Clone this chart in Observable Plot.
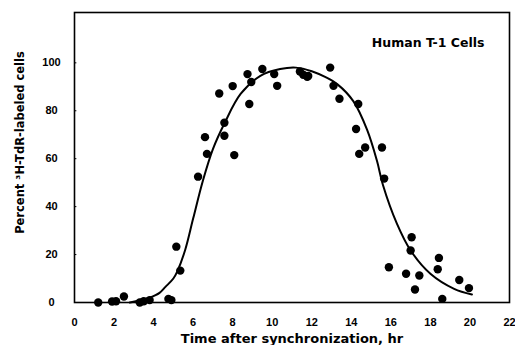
<!DOCTYPE html>
<html>
<head>
<meta charset="utf-8">
<script src="https://cdn.jsdelivr.net/npm/d3@7"></script>
<script src="https://cdn.jsdelivr.net/npm/@observablehq/plot@0.6"></script>
<style>
  body { margin: 0; background: #fff; }
  svg { font-family: "Liberation Sans", Arial, sans-serif; font-weight: bold; }
</style>
</head>
<body>
<div id="chart"></div>
<script>
// Observed points: hours after synchronization, percent labeled cells
const pointX = [1.2, 1.9, 2.1, 2.5, 3.3, 3.5, 3.8, 4.75, 4.9,
  5.15, 5.35, 6.25, 6.6, 6.7, 7.32, 7.58, 7.58, 8.0, 8.08, 8.75, 8.84, 8.94,
  9.5, 10.1, 10.25, 11.4, 11.57, 11.77, 11.82, 12.93, 13.1, 13.4,
  14.24, 14.35, 14.4, 14.7, 15.55, 15.66,
  15.9, 16.77, 17.0, 17.05, 17.22, 17.44, 18.37, 18.43, 18.6, 19.46, 19.95];
const pointY = [0, 0.4, 0.5, 2.5, 0, 0.5, 1, 1.5, 1,
  23.3, 13.3, 52.5, 69, 62, 87.2, 69.6, 75, 90.3, 61.5, 95.3, 82.8, 92,
  97.4, 95.3, 90.4, 96.4, 95, 94.2, 94.5, 98, 90.4, 85,
  72.4, 82.8, 62, 64.7, 64.7, 51.7,
  14.7, 12, 21.7, 27.2, 5.4, 11.25, 13.9, 18.6, 1.5, 9.4, 6];

// Fitted curve
const curveX = [2.8, 3.3, 3.8, 4.3, 4.6, 5.0, 5.2, 5.6, 6.0, 6.5, 7.0, 7.6, 8.4, 9.4, 10.4, 11.2, 12.0, 12.7, 13.3, 14.1, 14.8, 15.3, 15.6, 16.3, 17.0, 18.0, 19.2, 20.1];
const curveY = [0, 0.8, 2, 4, 6.5, 10, 13, 22, 35, 51, 64, 75, 87, 94.6, 97.4, 98, 96.5, 94, 91, 84, 72, 59, 49, 33, 21.7, 12, 5.7, 3.3];

const xTicks = [0, 2, 4, 6, 8, 10, 12, 14, 16, 18, 20, 22];
const yTicks = [0, 20, 40, 60, 80, 100];

const xLabel = "Time after synchronization, hr";
const yLabel = "Percent \u00B3H-TdR-labeled cells";
const note = "Human T-1 Cells";

const points = pointX.map((x, i) => ({x, y: pointY[i]}));
const curve = curveX.map((x, i) => ({x, y: curveY[i]}));

const wide = "DejaVu Sans, Liberation Sans, sans-serif";

const chart = Plot.plot({
  width: 515,
  height: 345,
  marginLeft: 74,
  marginRight: 6,
  marginTop: 12,
  marginBottom: 43,
  x: {domain: [0, 22]},
  y: {domain: [0, 121]},
  marks: [
    Plot.frame({stroke: "black", strokeWidth: 1.6}),
    Plot.axisX({ticks: xTicks, tickSize: 0, tickPadding: 16, fontSize: 11, fontWeight: "bold", label: null}),
    Plot.axisY({ticks: yTicks, tickSize: 0, tickPadding: 23, textAnchor: "middle", fontSize: 11, fontWeight: "bold", label: null}),
    Plot.ruleY(yTicks.filter(d => d > 0), {x1: 0, x2: 0.12, stroke: "black", strokeWidth: 1}),
    Plot.line(curve, {x: "x", y: "y", curve: "catmull-rom", stroke: "black", strokeWidth: 2}),
    Plot.dot(points, {x: "x", y: "y", r: 4.2, fill: "black", stroke: "none"}),
    Plot.text([note], {text: d => d, frameAnchor: "top-right", dx: -25, dy: 30, lineAnchor: "middle", fontSize: 12.5, fontWeight: "bold", fontFamily: wide, textAnchor: "end"}),
    Plot.text([xLabel], {text: d => d, frameAnchor: "bottom", dy: 36, lineAnchor: "middle", fontSize: 13, fontWeight: "bold", fontFamily: wide}),
    Plot.text([yLabel], {text: d => d, frameAnchor: "left", dx: -54, dy: -15, rotate: -90, textAnchor: "middle", lineAnchor: "middle", fontSize: 11.5, fontWeight: "bold", fontFamily: wide})
  ]
});
document.getElementById("chart").appendChild(chart);
</script>
</body>
</html>
